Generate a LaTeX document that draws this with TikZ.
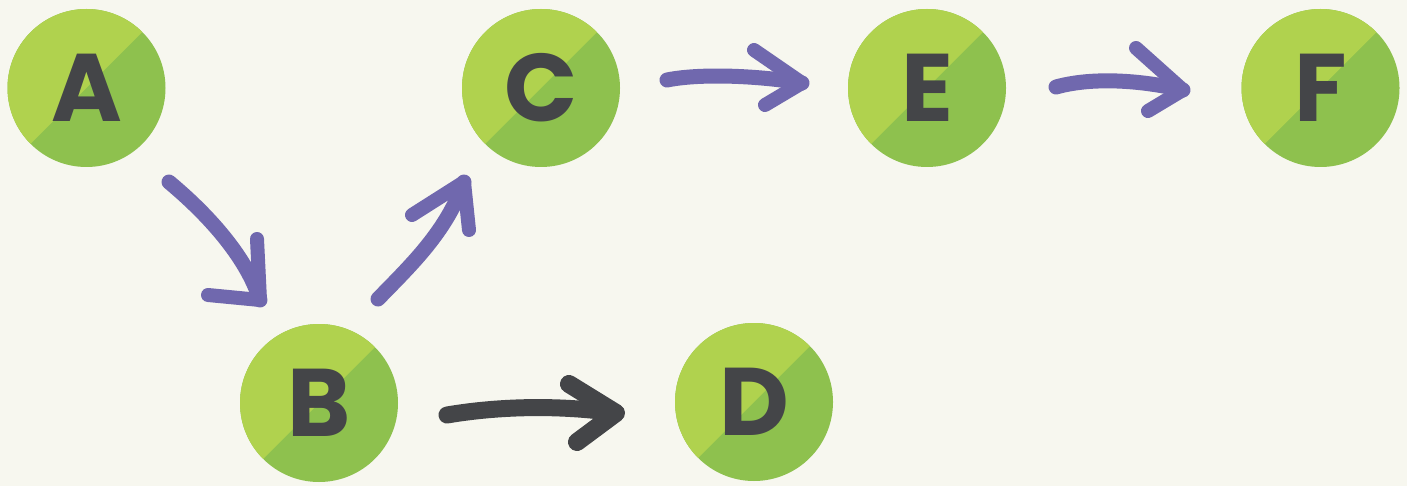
\documentclass[tikz,border=0pt]{standalone}
\usepackage{fontspec}
\setmainfont{Poppins}
\definecolor{paper}{HTML}{F7F7EF}
\definecolor{leafA}{HTML}{B0D24E}
\definecolor{leafB}{HTML}{8EC14E}
\definecolor{ink}{HTML}{444548}
\definecolor{violet}{HTML}{7068AE}
\newcommand{\glyph}[1]{\raisebox{-3pt}{#1}}
\tikzset{
  vertex/.style={circle, inner sep=0pt, minimum size=158pt, fill=leafB,
    text=ink, font=\fontsize{96}{96}\selectfont\bfseries,
    path picture={\fill[leafA] (path picture bounding box.north west) --
      (path picture bounding box.north east) --
      (path picture bounding box.south west) -- cycle;}},
  brush/.style={line width=15pt, line cap=round, line join=round},
  barb/.style={line width=14pt, line cap=round, line join=round},
}
\begin{document}
\begin{tikzpicture}[x=1pt, y=-1pt]
  \fill[paper] (0,0) rectangle (1407,486);
  \useasboundingbox (0,0) rectangle (1407,486);

  % vertices
  \node[vertex] (A) at (86.5,88) {\glyph{A}};
  \node[vertex] (C) at (541,88) {\glyph{C}};
  \node[vertex] (E) at (927,88) {\glyph{E}};
  \node[vertex] (F) at (1320.5,88) {\glyph{F}};
  \node[vertex] (B) at (319,403) {\glyph{B}};
  \node[vertex] (D) at (754,402) {\glyph{D}};

  % arrow end points and barb ends
  \coordinate (ab0) at (169,182);  \coordinate (ab1) at (260,300);
  \coordinate (ab2) at (257,239);  \coordinate (ab3) at (208,295);
  \coordinate (bc0) at (378,299);  \coordinate (bc1) at (464,182);
  \coordinate (bc2) at (412,215);  \coordinate (bc3) at (469,230);
  \coordinate (bd0) at (447,415);  \coordinate (bd1) at (616,413);
  \coordinate (bd2) at (569,384);  \coordinate (bd3) at (577,442);
  \coordinate (ce0) at (667,80);   \coordinate (ce1) at (802,83);
  \coordinate (ce2) at (754,50);   \coordinate (ce3) at (765,105);
  \coordinate (ef0) at (1056,87);  \coordinate (ef1) at (1183,90);
  \coordinate (ef2) at (1136,48);  \coordinate (ef3) at (1148,111);

  % A -> B
  \draw[brush, violet] (ab0) .. controls (205,212) and (246,255) .. (ab1);
  \draw[barb, violet] (ab2) -- (ab1) -- (ab3);
  % B -> C
  \draw[brush, violet] (bc0) .. controls (412,264) and (446,232) .. (bc1);
  \draw[barb, violet] (bc2) -- (bc1) -- (bc3);
  % B -> D
  \draw[line width=17pt, line cap=round, ink] (bd0) .. controls (500,406) and (560,405) .. (bd1);
  \draw[barb, line width=18pt, ink] (bd2) -- (bd1) -- (bd3);
  % C -> E
  \draw[brush, violet] (ce0) .. controls (702,73) and (760,76) .. (ce1);
  \draw[barb, violet] (ce2) -- (ce1) -- (ce3);
  % E -> F
  \draw[brush, violet] (ef0) .. controls (1092,77) and (1140,80) .. (ef1);
  \draw[barb, violet] (ef2) -- (ef1) -- (ef3);
\end{tikzpicture}
\end{document}
